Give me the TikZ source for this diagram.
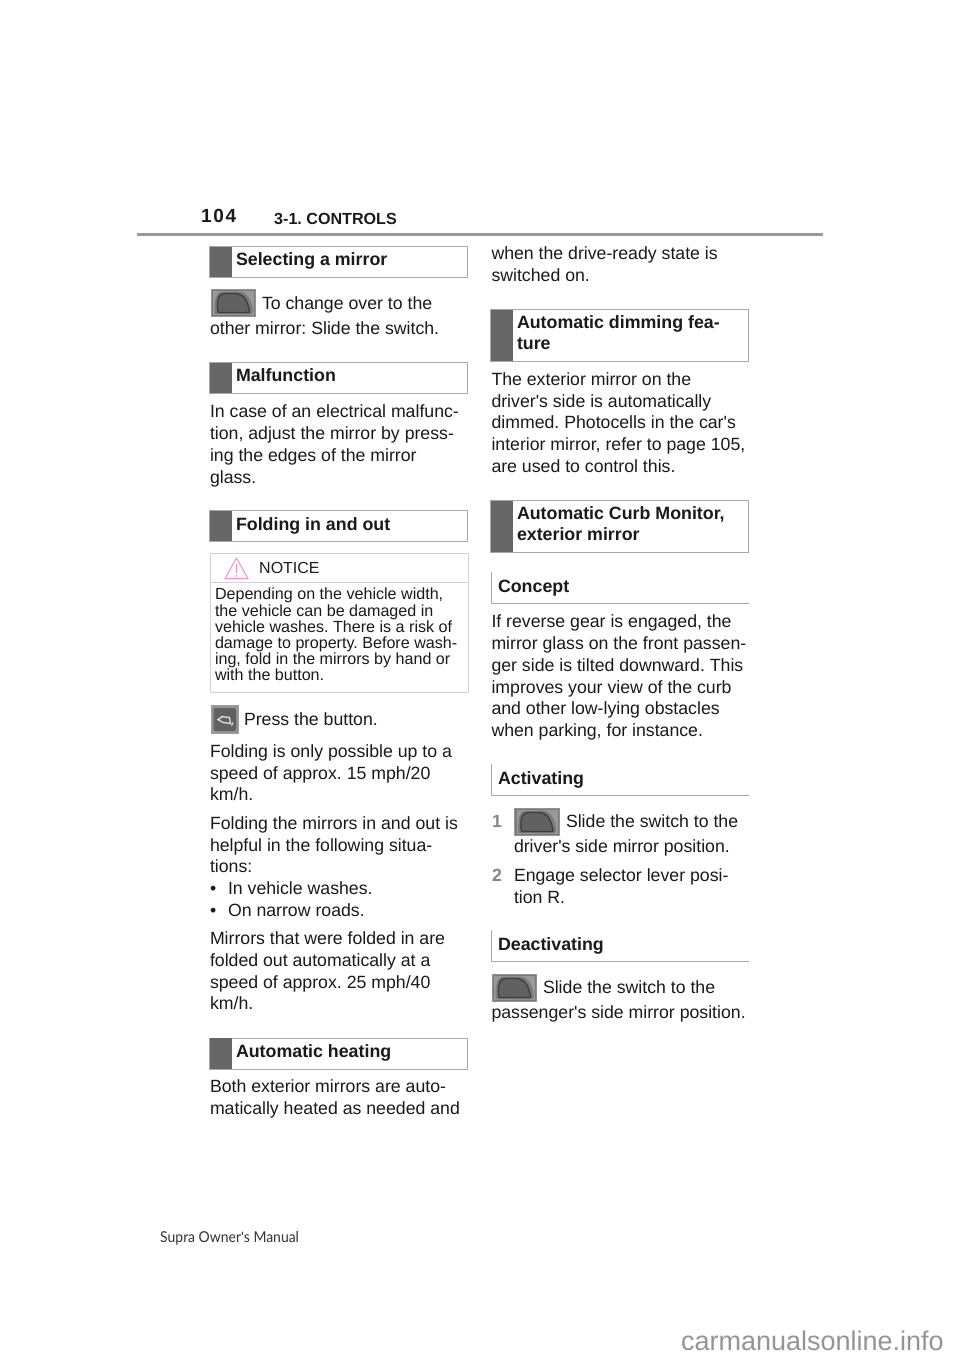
\documentclass[tikz,border=0pt]{standalone}
\usepackage{fontspec}
\setmainfont{Liberation Sans}
\newfontfamily\apf{Liberation Sans}
\newfontfamily\footfont[FakeStretch=0.93]{Lato}
\newcommand{\ap}{{\apf'}}
\definecolor{barc}{HTML}{666666}
\definecolor{edgec}{HTML}{A8A8A8}
\definecolor{txt}{HTML}{1A1A1A}
\definecolor{warnc}{HTML}{F291C4}
\tikzset{
  x=1pt,y=-1pt,
  bodyt/.style={anchor=base west,inner sep=0pt,outer sep=0pt,text=txt,font=\frenchspacing\fontsize{17.7}{22}\selectfont},
  headt/.style={anchor=base west,inner sep=0pt,outer sep=0pt,text=txt,font=\frenchspacing\fontsize{17.8}{21}\selectfont\bfseries},
  notet/.style={anchor=base west,inner sep=0pt,outer sep=0pt,text=txt,font=\frenchspacing\fontsize{16.1}{16}\selectfont},
  numt/.style={anchor=base west,inner sep=0pt,outer sep=0pt,text=gray!95,font=\fontsize{17.7}{22}\selectfont\bfseries},
  boxedge/.style={draw=edgec,line width=1pt,fill=white},
  sectedge/.style={draw=edgec,line width=1pt},
  barfill/.style={fill=barc,draw=none},
}
% heading box: x0,y0,x1,y1
\newcommand{\headbox}[4]{%
  \draw[boxedge] (#1,#2) rectangle (#3,#4);
  \fill[barfill] (#1,#2) rectangle (#1+22,#4);
}
% mirror switch icon: x0,y0 (44x27)
\newcommand{\mirroricon}[2]{%
  \begin{scope}[shift={(#1,#2)}]
    \fill[fill=black!52,draw=black!42] (0,0) rectangle (44.5,27.5);
    \fill[fill=black!40] (2,2) rectangle (43,26);
    \fill[fill=black!52] (4,25) .. controls (3,14) and (4,2.5) .. (12,2.5) -- (28,2.5) .. controls (37,3) and (41,13) .. (42,22) .. controls (42,25) and (40,25.5) .. (37,25.5) -- cycle;
    \fill[fill=black!62,draw=black!76,line width=1.3pt] (7,23.5) .. controls (5.5,14) and (6.5,4.5) .. (13,4.5) -- (26,4.5) .. controls (33,5) and (37,13) .. (38.5,22.5) -- (38,23.5) -- cycle;
  \end{scope}%
}
% fold button icon
\newcommand{\foldicon}[2]{%
  \begin{scope}[shift={(#1,#2)}]
    \fill[fill=black!42,draw=black!38] (0,0) rectangle (27.5,28);
    \fill[fill=black!62,rounded corners=2pt] (2.5,2.5) rectangle (25,25.5);
    \draw[black!12,line width=1.3pt] (10,11) -- (18.5,12) -- (19.5,18) -- (12,17);
    \draw[black!12,line width=1.3pt] (11,11.5) -- (7,14) -- (12,17);
    \draw[black!12,line width=1.3pt] (20.5,20) -- (22,17);
  \end{scope}%
}
\begin{document}
\begin{tikzpicture}
\useasboundingbox (0,0) rectangle (960,1358);
\fill[white] (0,0) rectangle (960,1358);

% page header
\node[anchor=base west,inner sep=0pt,text=txt,font=\fontsize{19}{20}\selectfont\bfseries] (pg) at (201,222.8) {1\kern1.6pt 0\kern1.6pt 4};
\node[anchor=base west,inner sep=0pt,text=txt,font=\frenchspacing\fontsize{16.1}{18}\selectfont\bfseries] (chap) at (274,224) {3-1. CONTROLS};
\draw[draw=gray!80,line width=3pt] (137,234) -- (823,234);

% left column
\headbox{209.5}{246.5}{467.5}{277}
\node[headt] (h1) at (236,265) {Selecting a mirror};
\mirroricon{211}{289}
\node[bodyt] (l1) at (262,309) {To change over to the};
\node[bodyt] (l2) at (210,334) {other mirror: Slide the switch.};

\headbox{209.5}{362.5}{467.5}{393}
\node[headt] (h2) at (236,381) {Malfunction};
\node[bodyt] (l3) at (210,417) {In case of an electrical malfunc-};
\node[bodyt] (l4) at (210,439) {tion, adjust the mirror by press-};
\node[bodyt] (l5) at (210,461) {ing the edges of the mirror};
\node[bodyt] (l6) at (210,483) {glass.};

\headbox{209.5}{510.5}{467.5}{541}
\node[headt] (h3) at (236,530) {Folding in and out};

% notice
\draw[draw=gray!35,line width=1pt] (210,553.5) rectangle (468.5,692);
\draw[draw=gray!35,line width=1pt] (210,582) -- (468.5,582);
\draw[draw=warnc,line width=1pt,line join=round] (225,578.5) -- (236.5,558) -- (248,578.5) -- cycle;
\draw[draw=warnc,line width=1.4pt] (236.5,564) -- (236.5,573);
\fill[warnc] (236.5,576) circle (0.9);
\node[anchor=base west,inner sep=0pt,text=txt,font=\fontsize{16}{18}\selectfont] (nh) at (259,573) {NOTICE};
\node[notet] (n1) at (215,599.5) {Depending on the vehicle width,};
\node[notet] (n2) at (215,616) {the vehicle can be damaged in};
\node[notet] (n3) at (215,632) {vehicle washes. There is a risk of};
\node[notet] (n4) at (215,648) {damage to property. Before wash-};
\node[notet] (n5) at (215,664) {ing, fold in the mirrors by hand or};
\node[notet] (n6) at (215,680) {with the button.};

\foldicon{211}{705.5}
\node[bodyt] (l7) at (244,725) {Press the button.};
\node[bodyt] (l8) at (210,757) {Folding is only possible up to a};
\node[bodyt] (l9) at (210,779) {speed of approx. 15 mph/20};
\node[bodyt] (l10) at (210,800) {km/h.};
\node[bodyt] (l11) at (210,829) {Folding the mirrors in and out is};
\node[bodyt] (l12) at (210,851) {helpful in the following situa-};
\node[bodyt] (l13) at (210,872) {tions:};
\node[bodyt] (l14a) at (210,894) {•};
\node[bodyt] (l14) at (228,894) {In vehicle washes.};
\node[bodyt] (l15a) at (210,916) {•};
\node[bodyt] (l15) at (228,916) {On narrow roads.};
\node[bodyt] (l16) at (210,944) {Mirrors that were folded in are};
\node[bodyt] (l17) at (210,966) {folded out automatically at a};
\node[bodyt] (l18) at (210,988) {speed of approx. 25 mph/40};
\node[bodyt] (l19) at (210,1009) {km/h.};

\headbox{209.5}{1038}{467.5}{1069}
\node[headt] (h4) at (236,1057) {Automatic heating};
\node[bodyt] (l20) at (210,1092) {Both exterior mirrors are auto-};
\node[bodyt] (l21) at (210,1114) {matically heated as needed and};

% right column
\node[bodyt] (r1) at (491.5,259) {when the drive-ready state is};
\node[bodyt] (r2) at (491.5,281) {switched on.};

\headbox{490.5}{309.5}{748.5}{361}
\node[headt] (h5) at (517,328) {Automatic dimming fea-};
\node[headt] (h5b) at (517,349) {ture};
\node[bodyt] (r3) at (491.5,385) {The exterior mirror on the};
\node[bodyt] (r4) at (491.5,407) {driver\ap s side is automatically};
\node[bodyt] (r5) at (491.5,428) {dimmed. Photocells in the car\ap s};
\node[bodyt] (r6) at (491.5,450) {interior mirror, refer to page 105,};
\node[bodyt] (r7) at (491.5,472) {are used to control this.};

\headbox{490.5}{500.5}{748.5}{552}
\node[headt] (h6) at (517,519) {Automatic Curb Monitor,};
\node[headt] (h6b) at (517,540) {exterior mirror};

\draw[sectedge] (491,572) -- (491,603.5) -- (749,603.5);
\node[headt] (s1) at (498,592) {Concept};
\node[bodyt] (r8) at (491.5,627) {If reverse gear is engaged, the};
\node[bodyt] (r9) at (491.5,649) {mirror glass on the front passen-};
\node[bodyt] (r10) at (491.5,671) {ger side is tilted downward. This};
\node[bodyt] (r11) at (491.5,693) {improves your view of the curb};
\node[bodyt] (r12) at (491.5,714) {and other low-lying obstacles};
\node[bodyt] (r13) at (491.5,736) {when parking, for instance.};

\draw[sectedge] (491,764) -- (491,795.5) -- (749,795.5);
\node[headt] (s2) at (498,784) {Activating};
\node[numt] (num1) at (492,827) {1};
\mirroricon{514.5}{808}
\node[bodyt] (r14) at (566,827) {Slide the switch to the};
\node[bodyt] (r15) at (514,852) {driver\ap s side mirror position.};
\node[numt] (num2) at (492,881) {2};
\node[bodyt] (r16) at (514,881) {Engage selector lever posi-};
\node[bodyt] (r17) at (514,903) {tion R.};

\draw[sectedge] (491,930) -- (491,961.5) -- (749,961.5);
\node[headt] (s3) at (498,950) {Deactivating};
\mirroricon{492}{974}
\node[bodyt] (r18) at (543,993) {Slide the switch to the};
\node[bodyt] (r19) at (491.5,1018) {passenger\ap s side mirror position.};

% footer
\node[anchor=base west,inner sep=0pt,text=black!80,font=\footfont\fontsize{15}{16}\selectfont] (ft) at (160,1242) {Supra Owner\ap s Manual};
\node[anchor=base east,inner sep=0pt,text=black!42,font=\fontsize{27}{28}\selectfont] (wm) at (944,1350) {carmanualsonline.info};
\end{tikzpicture}
\end{document}
